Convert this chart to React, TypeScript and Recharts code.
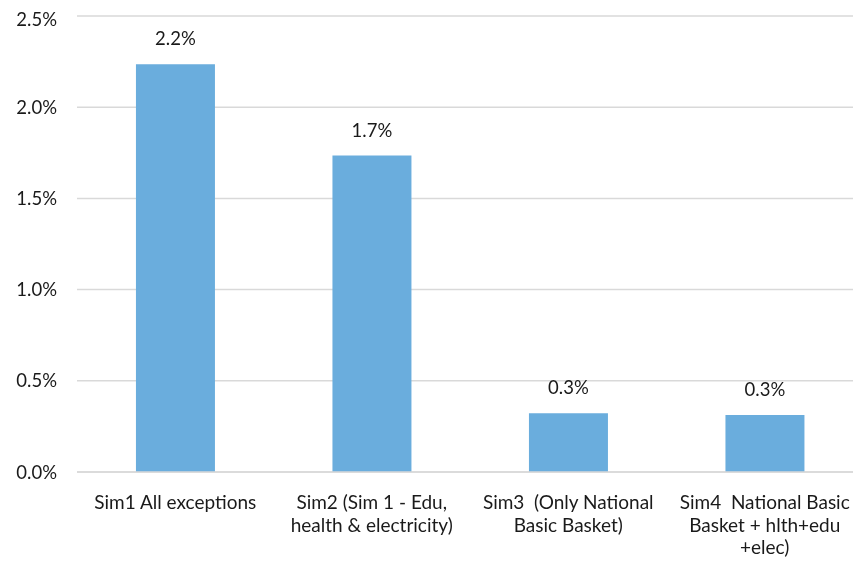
import { Bar, BarChart, CartesianGrid, LabelList, XAxis, YAxis } from 'recharts';

const categories = [
  'Sim1 All exceptions',
  'Sim2 (Sim 1 - Edu,\nhealth & electricity)',
  'Sim3  (Only National\nBasic Basket)',
  'Sim4  National Basic\nBasket + hlth+edu\n+elec)',
];
const growth = [2.235, 1.735, 0.322, 0.312];
const yTicks = [0, 0.5, 1, 1.5, 2, 2.5];

const chartData = categories.map((name, i) => ({ name, value: growth[i] }));

const FONT = 'Lato, "Open Sans", sans-serif';

function CategoryTick(props: any) {
  const { x, y, payload } = props;
  const lines = String(payload.value).split('\n');
  return (
    <text x={x} y={y} textAnchor="middle" fill="#1a1a1a" fontSize={19} fontFamily={FONT} style={{ whiteSpace: 'pre' }}>
      {lines.map((line, i) => (
        <tspan key={i} x={x} dy={i === 0 ? 29 : 22.5} xmlSpace="preserve">
          {line}
        </tspan>
      ))}
    </text>
  );
}

export default function App() {
  return (
    <div style={{ position: 'fixed', top: 8, left: 8, width: 845, height: 556, overflow: 'hidden' }}>
      <BarChart
        width={855}
        height={556}
        data={chartData}
        margin={{ top: 8, right: 0, left: 0, bottom: 0 }}
        barCategoryGap="30%"
      >
        <CartesianGrid vertical={false} stroke="#d9d9d9" strokeWidth={1.5} />
        <XAxis
          dataKey="name"
          interval={0}
          height={92}
          tickLine={false}
          axisLine={{ stroke: '#d9d9d9', strokeWidth: 1.5 }}
          tick={<CategoryTick />}
        />
        <YAxis
          width={69}
          domain={[0, 2.5]}
          ticks={yTicks}
          axisLine={false}
          tickLine={false}
          tickSize={0}
          tickMargin={20}
          tickFormatter={(v: number) => `${v.toFixed(1)}%`}
          tick={{ fill: '#1a1a1a', fontSize: 18.5, fontFamily: FONT }}
        />
        <Bar dataKey="value" fill="#6aaddd" isAnimationActive={false}>
          <LabelList
            dataKey="value"
            position="top"
            offset={19}
            formatter={(v: any) => `${Number(v).toFixed(1)}%`}
            style={{ fill: '#1a1a1a', fontSize: 18.5, fontFamily: FONT }}
          />
        </Bar>
      </BarChart>
    </div>
  );
}
